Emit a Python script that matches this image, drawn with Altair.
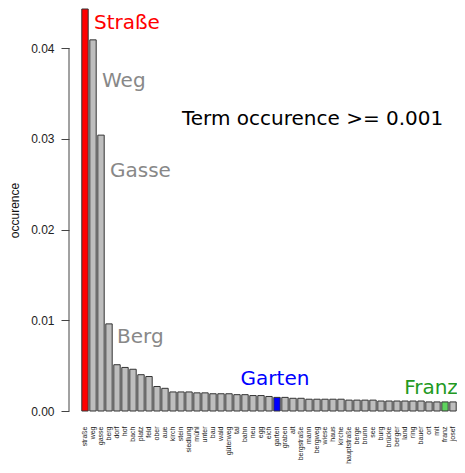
import altair as alt
import pandas as pd

terms = ["straße", "weg", "gasse", "berg", "dorf", "hof", "bach", "platz", "feld", "ober",
         "aue", "kirch", "stein", "siedlung", "mühl", "unter", "bau", "wald", "güterweg", "tal",
         "bahn", "neu", "egg", "eich", "garten", "graben", "alt", "bergstraße", "mann", "bergweg",
         "wiese", "haus", "kirche", "hauptstraße", "berge", "brunn", "see", "burg", "brücke", "berger",
         "land", "ring", "bauer", "ort", "mit", "franz", "josef"]
occurence = [0.0448, 0.0409, 0.0304, 0.0096, 0.0051, 0.0048, 0.0046, 0.0040, 0.0038, 0.0027,
             0.0025, 0.0021, 0.0021, 0.0021, 0.0020, 0.0020, 0.0019, 0.0019, 0.0019, 0.0018,
             0.0018, 0.0017, 0.0017, 0.0016, 0.0015, 0.0015, 0.0014, 0.0014, 0.0013, 0.0013,
             0.0013, 0.0013, 0.0013, 0.0012, 0.0012, 0.0012, 0.0012, 0.0011, 0.0011, 0.0011,
             0.0011, 0.0011, 0.0011, 0.0010, 0.0010, 0.0010, 0.0010]
highlight = {"straße": "#FF0000", "garten": "#0000FF", "franz": "#5FD35F"}
y_ticks = [0.0, 0.01, 0.02, 0.03, 0.04]

df = pd.DataFrame({"term": terms, "occurence": occurence})
df["fill"] = [highlight.get(t, "#BEBEBE") for t in terms]
one = pd.DataFrame({"k": [0]})

yscale = alt.Scale(domain=[0, 0.0443], nice=False, zero=True, clamp=True)
xenc = alt.X("term:N", sort=None, title=None,
             scale=alt.Scale(paddingInner=0.2, paddingOuter=0.1),
             axis=alt.Axis(labelAngle=-90, labelFontSize=7, labelPadding=15, ticks=False,
                           domain=False, labelFont="Liberation Sans", labelColor="#222",
                           labelOverlap=False, grid=False))

bars = alt.Chart(df).mark_bar(stroke="#333333", strokeWidth=1).encode(
    x=xenc,
    y=alt.Y("occurence:Q", scale=yscale, title="occurence",
            axis=alt.Axis(values=y_ticks, format=".2f", offset=12, domain=False, tickSize=8,
                          tickColor="#444", labelFontSize=12, labelPadding=7, labelColor="#222",
                          labelFont="Liberation Sans", titleFont="Liberation Sans",
                          titleFontSize=12, titleFontWeight="normal", titleColor="#111",
                          titlePadding=9, grid=False)),
    fill=alt.Fill("fill:N", scale=None),
)

axis_line = alt.Chart(one).mark_rule(color="#444", strokeWidth=1).encode(
    x=alt.value(-12), y=alt.datum(0.0), y2=alt.datum(0.04)
)

def label(term, yval, text, color, align, dx):
    return alt.Chart(one).mark_text(
        text=text, color=color, align=align, baseline="middle", dx=dx,
        fontSize=20, font="DejaVu Sans"
    ).encode(x=alt.datum(term), y=alt.datum(yval))

labels = [
    label("straße", 0.0428, "Straße", "#FF0000", "left", 9),
    label("weg", 0.0364, "Weg", "#888888", "left", 9),
    label("gasse", 0.0265, "Gasse", "#888888", "left", 9),
    label("berg", 0.0082, "Berg", "#888888", "left", 8),
    label("garten", 0.0035, "Garten", "#0000FF", "center", -2),
    label("franz", 0.0025, "Franz", "#229922", "center", -14),
]

title_text = alt.Chart(one).mark_text(
    text="Term occurence >= 0.001", color="#000000", align="left", baseline="middle",
    fontSize=20, font="DejaVu Sans"
).encode(x=alt.value(101), y=alt.datum(0.0322))

chart = alt.layer(bars, axis_line, *labels, title_text).properties(
    width=449, height=456, padding=0, background="white",
    autosize=alt.AutoSizeParams(type="fit", contains="padding")
).configure_view(stroke=None)

chart.save("out.html", embed_options={"renderer": "svg", "actions": False})
